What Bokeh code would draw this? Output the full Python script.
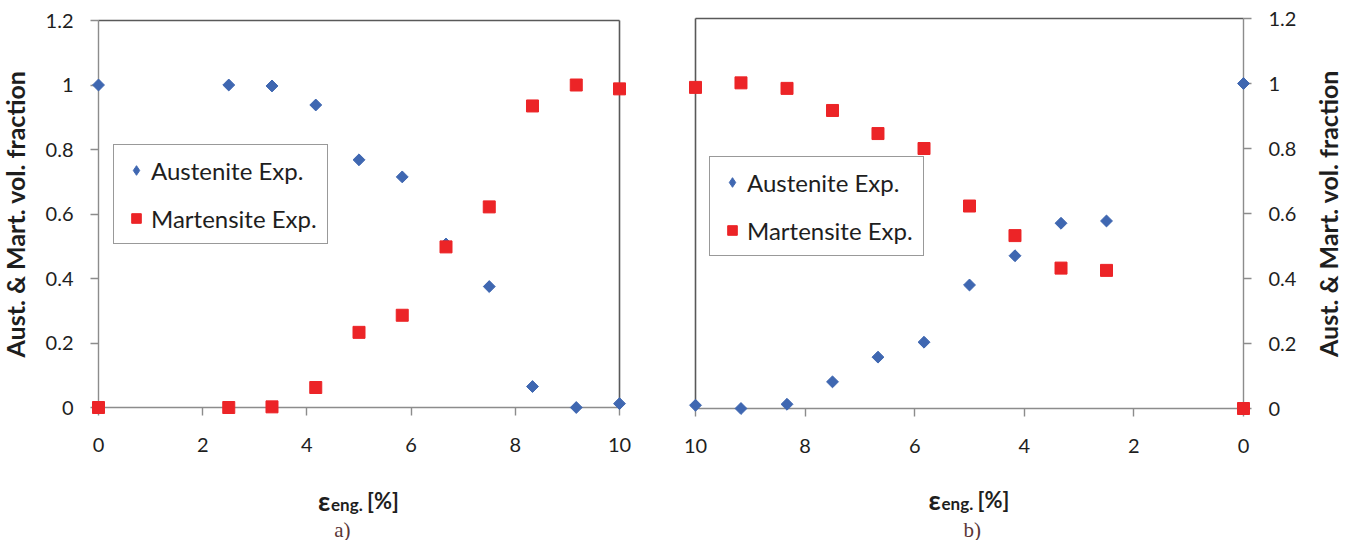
import numpy as np
from bokeh.plotting import figure
from bokeh.models import Range1d, LinearAxis, FixedTicker, Legend, LegendItem
from bokeh.core.properties import value
from bokeh.layouts import row, column
from bokeh.embed import file_html
from bokeh.resources import INLINE

# ---------------- data ----------------
STRAIN_A = [0.0, 2.5, 3.33, 4.17, 5.0, 5.83, 6.67, 7.5, 8.33, 9.17, 10.0]
AUST_A = [1.0, 1.0, 0.997, 0.938, 0.768, 0.715, 0.507, 0.375, 0.065, 0.0, 0.012]
MART_A = [0.0, 0.0, 0.002, 0.062, 0.233, 0.286, 0.498, 0.622, 0.935, 1.0, 0.988]

STRAIN_B = [10.0, 9.17, 8.33, 7.5, 6.67, 5.83, 5.0, 4.17, 3.33, 2.5, 0.0]
AUST_B = [0.01, 0.0, 0.013, 0.082, 0.158, 0.204, 0.38, 0.47, 0.57, 0.577, 1.0]
MART_B = [0.988, 1.002, 0.985, 0.917, 0.846, 0.8, 0.623, 0.532, 0.432, 0.425, 0.0]

SERIES = ["Austenite Exp.", "Martensite Exp."]
X_TICKS = [0, 2, 4, 6, 8, 10]
Y_TICKS = [0, 0.2, 0.4, 0.6, 0.8, 1.0, 1.2]
Y_TICK_LABELS = ["0", "0.2", "0.4", "0.6", "0.8", "1", "1.2"]
Y_TITLE = "Aust. & Mart. vol. fraction"
X_TITLE_PARTS = ["\u03b5", "eng.", "[%]"]
CAPTIONS = ["a)", "b)"]

# ---------------- style ----------------
BLUE = "#3F67B1"
RED = "#EC2427"
AXIS_GRAY = "#8c8c8c"
BORDER = "#595959"
TXT = "#1e1e1e"
FONT = "Lato"


def style_axis(ax, ticks, labels, standoff):
    ax.ticker = FixedTicker(ticks=ticks)
    if labels is not None:
        ax.major_label_overrides = dict(zip(ticks, labels))
    ax.axis_line_color = AXIS_GRAY
    ax.axis_line_width = 1.4
    ax.major_tick_line_color = AXIS_GRAY
    ax.major_tick_line_width = 1.4
    ax.major_tick_out = 8
    ax.major_tick_in = 0
    ax.minor_tick_out = 0
    ax.minor_tick_in = 0
    ax.major_label_standoff = standoff
    ax.major_label_text_font = FONT
    ax.major_label_text_font_size = "20px"
    ax.major_label_text_color = TXT


def border_axis():
    return LinearAxis(ticker=FixedTicker(ticks=[]),
                      major_tick_out=0, major_tick_in=0,
                      minor_tick_out=0, minor_tick_in=0,
                      major_label_standoff=0,
                      major_label_text_font_size="0px",
                      axis_line_color=BORDER, axis_line_width=1.6)


def add_series(p, xs, aust, mart, legend_loc):
    # Austenite drawn as a plain diamond (used by the legend) ...
    ra = p.scatter(xs, aust, marker="diamond", size=10,
                   fill_color=BLUE, line_color=BLUE)
    # ... and on top as an equal-sided diamond (square rotated 45 deg)
    p.scatter(xs, aust, marker="square", angle=np.pi / 4, size=8.4,
              fill_color=BLUE, line_color=BLUE, level="overlay")
    rm = p.scatter(xs, mart, marker="square", size=12,
                   fill_color=RED, line_color=RED, level="overlay")
    lg = Legend(items=[LegendItem(label=SERIES[0], renderers=[ra]),
                       LegendItem(label=SERIES[1], renderers=[rm])],
                location=legend_loc, margin=0, padding=10, spacing=18,
                label_height=30, glyph_width=24, glyph_height=24,
                label_standoff=3, label_text_font=FONT,
                label_text_font_size="24px", label_text_color=TXT,
                border_line_color="#333333", border_line_width=1.2,
                background_fill_color="white", background_fill_alpha=1)
    p.add_layout(lg)


def blank(p):
    p.grid.visible = False
    p.outline_line_color = None
    p.background_fill_color = "white"
    p.border_fill_color = "white"
    return p


def plot_fig(x_range, y_range, fw, fh, left, right, top, bottom, y_loc):
    p = figure(x_range=x_range, y_range=y_range,
               frame_width=fw, frame_height=fh,
               min_border_left=left, min_border_right=right,
               min_border_top=top, min_border_bottom=bottom,
               y_axis_location=y_loc,
               output_backend="svg", toolbar_location=None)
    return blank(p)


def ytitle_fig(y_range, w, fh, top, bottom, anchor_x):
    t = figure(x_range=Range1d(0, w), y_range=y_range,
               frame_width=w, frame_height=fh,
               min_border_left=0, min_border_right=0,
               min_border_top=top, min_border_bottom=bottom,
               x_axis_location=None, y_axis_location=None,
               output_backend="svg", toolbar_location=None)
    blank(t)
    t.text(x=[anchor_x], y=[0.6], text=[Y_TITLE], angle=np.pi / 2,
           text_align="center", text_baseline="alphabetic",
           text_font=value(FONT), text_font_style="bold",
           text_font_size="25px", text_color=TXT)
    return t


def xtitle_fig(x_range, fw, left, right, base_y, cap_x, cap):
    t = figure(x_range=x_range, y_range=Range1d(0, 73),
               frame_width=fw, frame_height=73,
               min_border_left=left, min_border_right=right,
               min_border_top=0, min_border_bottom=0,
               x_axis_location=None, y_axis_location=None,
               output_backend="svg", toolbar_location=None)
    blank(t)
    t.text(x=[5], y=[base_y], text=[X_TITLE_PARTS[0]], x_offset=-41,
           text_align="left", text_baseline="alphabetic",
           text_font=value(FONT), text_font_style="bold",
           text_font_size="27px", text_color=TXT)
    t.text(x=[5], y=[base_y - 4], text=[X_TITLE_PARTS[1]], x_offset=-28,
           text_align="left", text_baseline="alphabetic",
           text_font=value(FONT), text_font_style="bold",
           text_font_size="17px", text_color=TXT)
    t.text(x=[5], y=[base_y], text=[X_TITLE_PARTS[2]], x_offset=8,
           text_align="left", text_baseline="alphabetic",
           text_font=value(FONT), text_font_style="bold",
           text_font_size="22px", text_color=TXT)
    t.text(x=[cap_x], y=[11], text=[cap],
           text_align="center", text_baseline="alphabetic",
           text_font=value("Liberation Serif"), text_font_size="21px",
           text_color="#5a3636")
    return t


# ---------------- panel a ----------------
xr_a = Range1d(0, 10)
yr_a = Range1d(0, 1.2)
pa = plot_fig(xr_a, yr_a, 521, 387, 58, 38, 20, 60, "left")
style_axis(pa.below[0], X_TICKS, None, 22)
style_axis(pa.left[0], Y_TICKS, Y_TICK_LABELS, 17)
pa.add_layout(border_axis(), "above")
pa.add_layout(border_axis(), "right")
add_series(pa, STRAIN_A, AUST_A, MART_A, (15, 163))
ya_fig = ytitle_fig(yr_a, 40, 387, 20, 60, 14)
ta = xtitle_fig(xr_a, 521, 98, 38, 40, 4.68, CAPTIONS[0])

# ---------------- panel b ----------------
xr_b = Range1d(10, 0)
yr_b = Range1d(0, 1.2)
pb = plot_fig(xr_b, yr_b, 548, 390, 38, 60, 18, 59, "right")
style_axis(pb.below[0], X_TICKS, None, 22)
style_axis(pb.right[0], Y_TICKS, Y_TICK_LABELS, 17)
pb.add_layout(border_axis(), "above")
pb.add_layout(border_axis(), "left")
add_series(pb, STRAIN_B, AUST_B, MART_B, (14, 152))
yb_fig = ytitle_fig(yr_b, 52, 390, 18, 59, 24)
tb = xtitle_fig(xr_b, 548, 38, 112, 41, 4.95, CAPTIONS[1])

layout = row(column(row(ya_fig, pa), ta), column(row(pb, yb_fig), tb))
open("out.html", "w").write(file_html(layout, INLINE))
